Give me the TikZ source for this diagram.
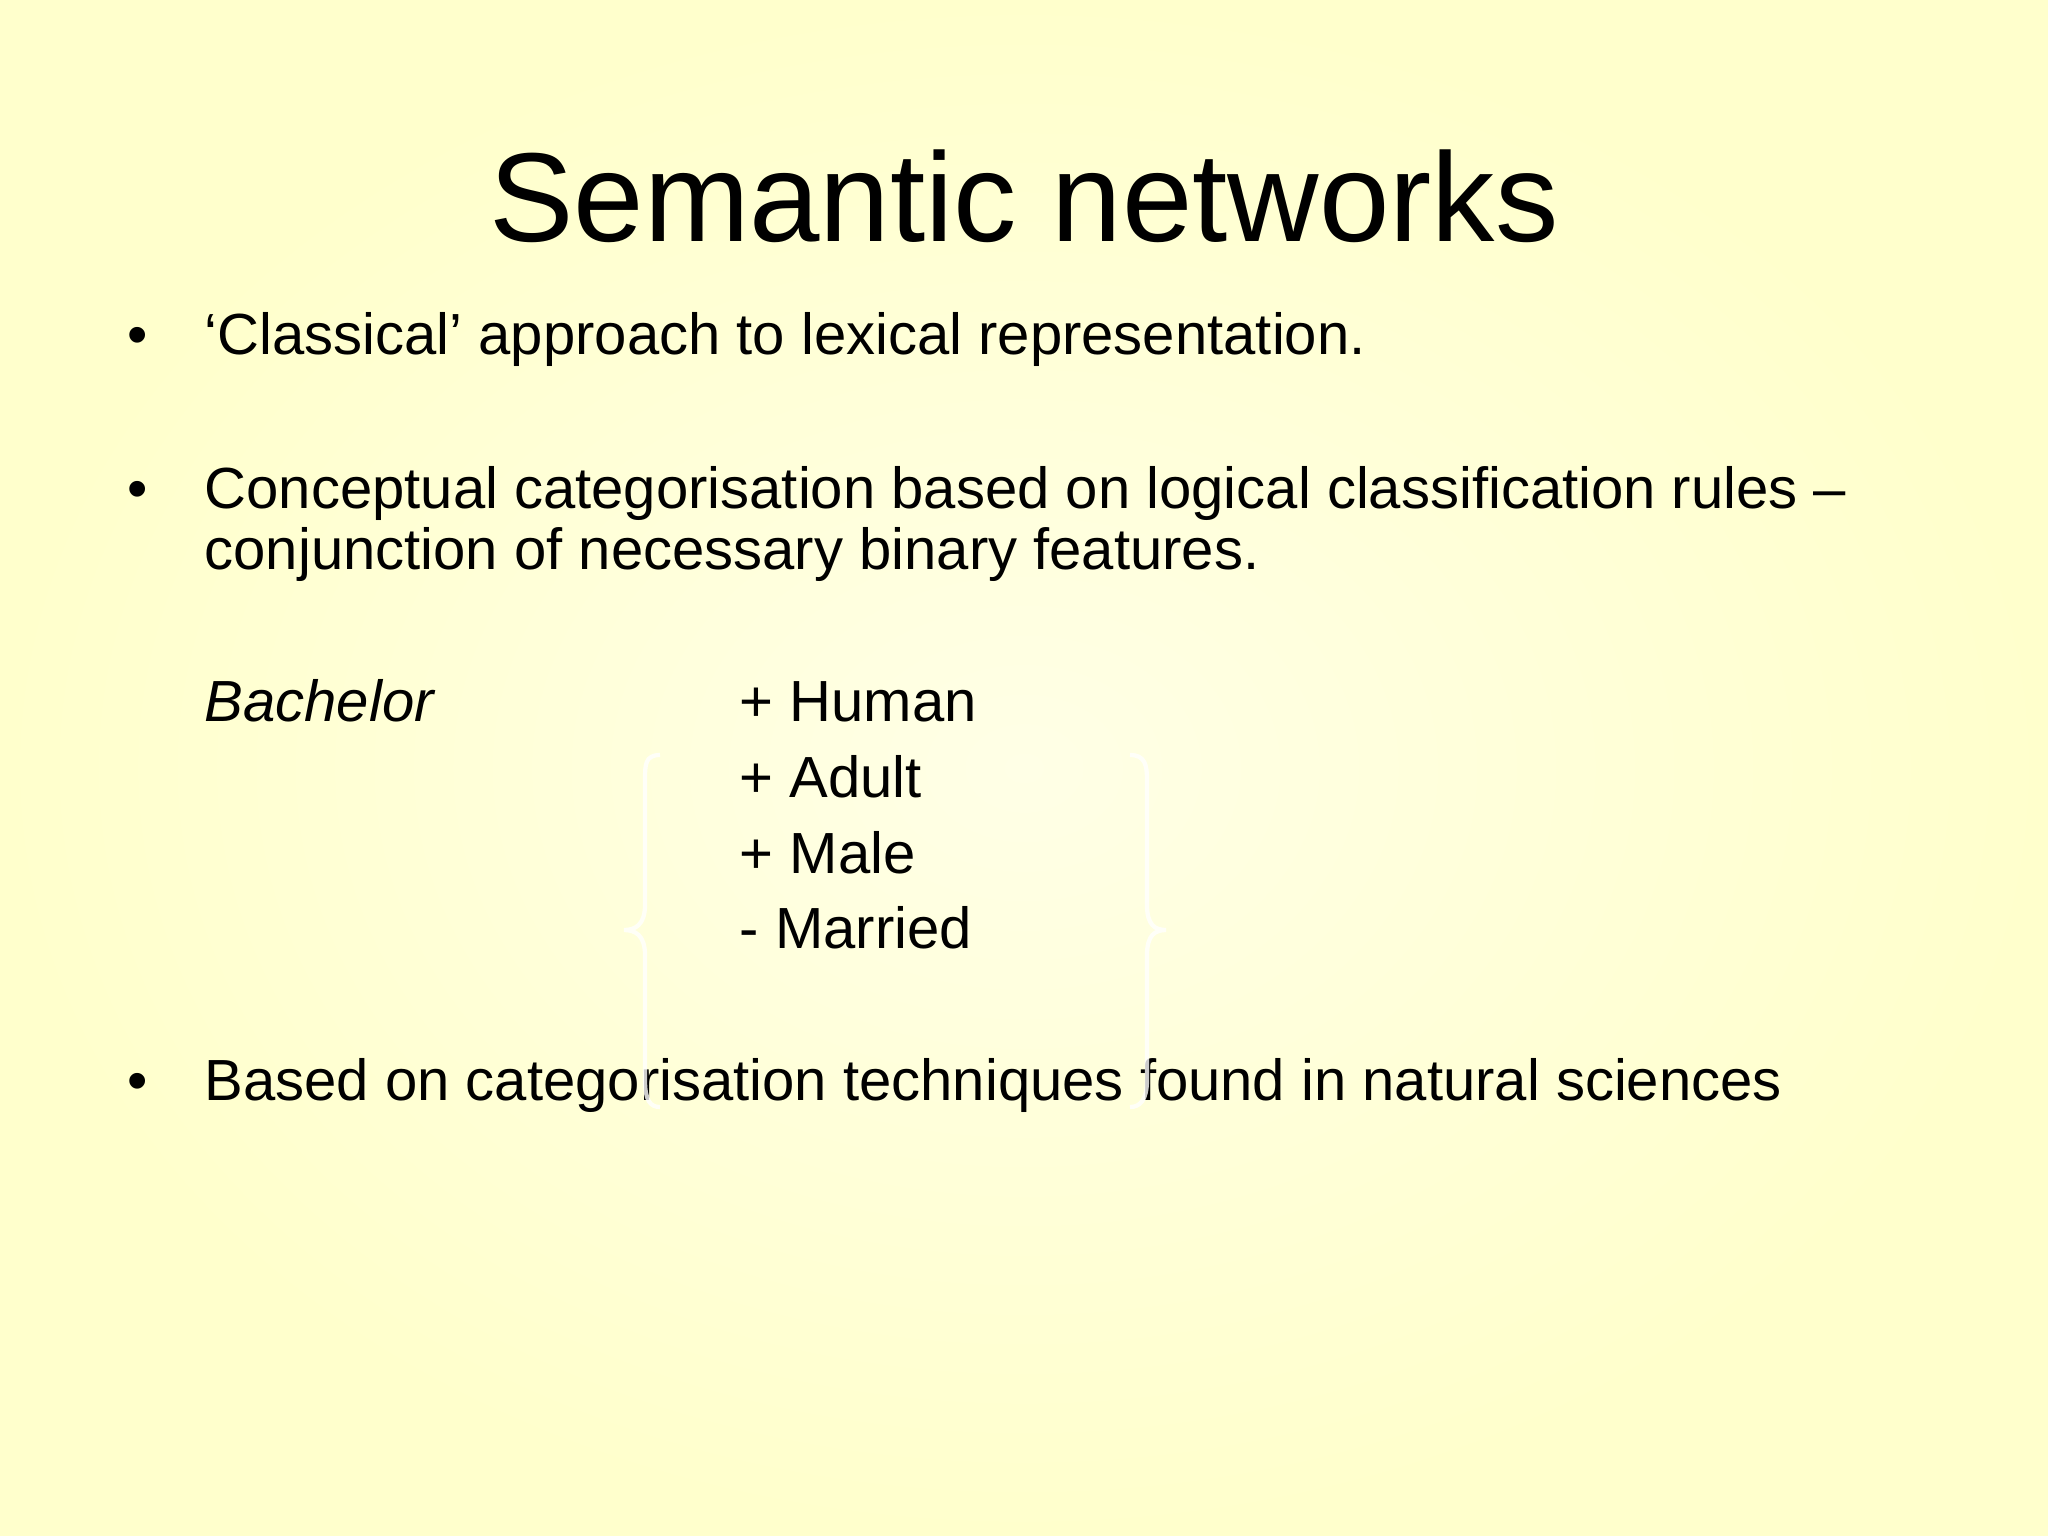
\documentclass[tikz,border=0pt]{standalone}
\usepackage{fontspec}
\setmainfont{Liberation Sans}
\begin{document}
\begin{tikzpicture}[x=0.01cm,y=-0.01cm,
  txt/.style={anchor=base west,inner sep=0pt,font=\fontsize{16.5}{20}\selectfont},
  bul/.style={anchor=base west,inner sep=0pt,font=\fontsize{16.5}{20}\selectfont}]
\definecolor{bg}{HTML}{FFFFCC}
\definecolor{bgc}{HTML}{FFFFE6}
\useasboundingbox (0,0) rectangle (2048,1536);
\shade[inner color=bgc,outer color=bg] (0,0) rectangle (2048,1536);
\node[inner sep=0pt,font=\fontsize{36}{40}\selectfont] (title) at (1024,196) {Semantic networks};
\node[bul] (b1) at (127,354) {•};
\node[txt] (t1) at (204,354) {‘Classical’ approach to lexical representation.};
\node[bul] (b2) at (127,508) {•};
\node[txt] (t2) at (204,508) {Conceptual categorisation based on logical classification rules –};
\node[txt] (t2b) at (204,569) {conjunction of necessary binary features.};
\node[txt] (bach) at (204,721) {\itshape Bachelor};
\node[txt] (f1) at (739,721) {+ Human};
\node[txt] (f2) at (739,797) {+ Adult};
\node[txt] (f3) at (739,873) {+ Male};
\node[txt] (f4) at (739,948) {- Married};
\node[bul] (b3) at (127,1100) {•};
\node[txt] (t3) at (204,1100) {Based on categorisation techniques found in natural sciences};
\draw[white,line width=1.2pt,opacity=0.8] (660,755) .. controls (645,755) and (645,765) .. (645,780) -- (645,905) .. controls (645,925) and (635,930) .. (624,930) .. controls (635,930) and (645,935) .. (645,955) -- (645,1080) .. controls (645,1100) and (650,1107) .. (660,1107);
\draw[white,line width=1.2pt,opacity=0.8] (1130,755) .. controls (1145,755) and (1147,765) .. (1147,780) -- (1147,905) .. controls (1147,925) and (1155,930) .. (1166,930) .. controls (1155,930) and (1147,935) .. (1147,955) -- (1147,1080) .. controls (1147,1100) and (1140,1107) .. (1130,1107);
\end{tikzpicture}
\end{document}
